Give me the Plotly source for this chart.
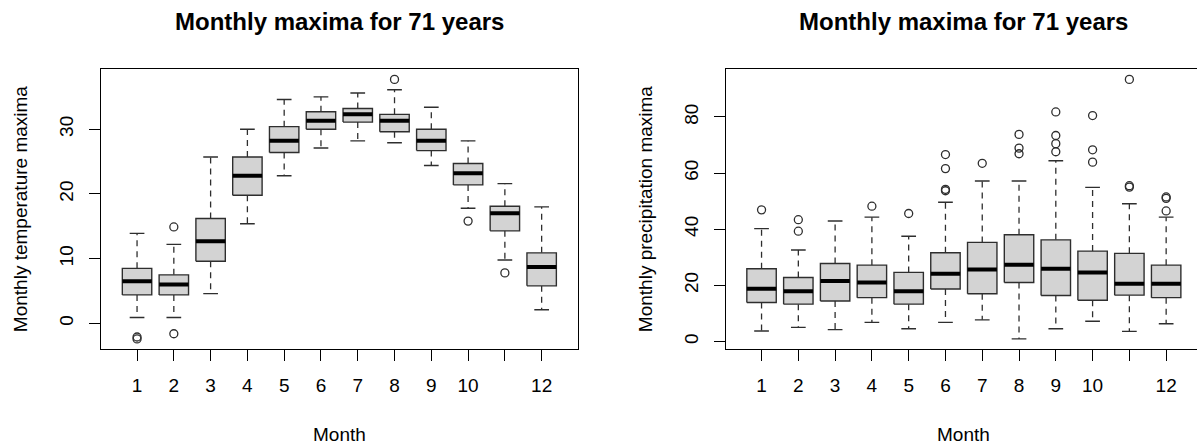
import plotly.graph_objects as go

# ---- data: monthly maxima over 71 years, five-number summaries per month ----
months = list(range(1, 13))
month_labels = ["1", "2", "3", "4", "5", "6", "7", "8", "9", "10", "", "12"]

# temperature maxima
temp_lower = [0.9, 0.9, 4.6, 15.4, 22.8, 27.1, 28.2, 27.9, 24.4, 17.8, 9.8, 2.1]
temp_q1 = [4.4, 4.4, 9.6, 19.8, 26.4, 30.0, 31.1, 29.6, 26.7, 21.4, 14.3, 5.8]
temp_median = [6.5, 6.0, 12.7, 22.8, 28.2, 31.3, 32.3, 31.3, 28.2, 23.2, 17.0, 8.7]
temp_q3 = [8.5, 7.5, 16.2, 25.7, 30.4, 32.7, 33.2, 32.3, 30.0, 24.7, 18.1, 10.9]
temp_upper = [13.9, 12.2, 25.7, 30.0, 34.6, 35.0, 35.6, 36.1, 33.4, 28.2, 21.6, 18.0]
temp_out_month = [1, 1, 2, 2, 8, 10, 11]
temp_out_value = [-2.1, -2.4, 14.9, -1.6, 37.7, 15.8, 7.8]

# precipitation maxima
prec_lower = [3.7, 5.0, 4.2, 6.8, 4.5, 6.8, 7.7, 0.9, 4.5, 7.2, 3.6, 6.3]
prec_q1 = [13.9, 13.3, 14.4, 15.6, 13.3, 18.7, 17.0, 21.0, 16.4, 14.7, 16.5, 15.6]
prec_median = [18.8, 17.9, 21.5, 21.0, 17.9, 24.1, 25.6, 27.3, 25.9, 24.6, 20.6, 20.6]
prec_q3 = [25.9, 22.8, 27.8, 27.2, 24.6, 31.6, 35.3, 38.0, 36.2, 32.2, 31.4, 27.2]
prec_upper = [40.2, 32.6, 42.9, 44.3, 37.5, 49.6, 57.2, 57.2, 64.4, 54.9, 49.1, 44.3]
prec_out_month = [1, 2, 2, 4, 5, 6, 6, 6, 6, 7, 8, 8, 8,
                  9, 9, 9, 9, 10, 10, 10, 11, 11, 11, 12, 12, 12]
prec_out_value = [46.9, 43.4, 39.3, 48.2, 45.6, 66.6, 61.6, 54.2, 53.7, 63.5,
                  73.8, 68.9, 66.9, 81.8, 73.4, 70.5, 67.6, 80.5, 68.3, 63.9,
                  93.4, 55.5, 55.0, 51.5, 51.0, 46.5]

# ---- page geometry (pixels) ----
W, H = 1197, 445
PLOT_TOP, PLOT_BOTTOM = 69, 349.3
LEFT_X0, LEFT_X1 = 101, 577.7
RIGHT_X0 = 725.5
PANEL_W = LEFT_X1 - LEFT_X0
X_RANGE = (0.02, 12.98)
UNITS_PER_PX = (X_RANGE[1] - X_RANGE[0]) / PANEL_W
RIGHT_X1 = W  # right panel runs past the page edge
RIGHT_RANGE_END = X_RANGE[0] + (RIGHT_X1 - RIGHT_X0) * UNITS_PER_PX

FONT = "Liberation Sans, Arial, sans-serif"
BOX_FILL = "#d3d3d3"
EDGE = "#2e2e2e"
BOX_WEX = 0.8
STAPLE_WEX = 0.4


def px_x(x):
    return x / W


def px_y(y):
    return 1 - y / H


def padded(values):
    lo, hi = min(values), max(values)
    pad = 0.04 * (hi - lo)
    return [lo - pad, hi + pad]


def box_traces(lower, q1, med, q3, upper, out_m, out_v, xa, ya):
    wx, wy, bx, by, mx, my, sx, sy = [], [], [], [], [], [], [], []
    for m, lo, a, md, b, hi in zip(months, lower, q1, med, q3, upper):
        h = BOX_WEX / 2
        s = STAPLE_WEX / 2
        wx += [m, m, None, m, m, None]
        wy += [b, hi, None, a, lo, None]
        bx += [m - h, m + h, m + h, m - h, m - h, None]
        by += [a, a, b, b, a, None]
        mx += [m - h, m + h, None]
        my += [md, md, None]
        sx += [m - s, m + s, None, m - s, m + s, None]
        sy += [hi, hi, None, lo, lo, None]
    common = dict(xaxis=xa, yaxis=ya, showlegend=False, hoverinfo="skip")
    return [
        go.Scatter(x=wx, y=wy, mode="lines",
                   line=dict(color=EDGE, width=1.3, dash="6px,5px"), **common),
        go.Scatter(x=sx, y=sy, mode="lines",
                   line=dict(color=EDGE, width=1.4), **common),
        go.Scatter(x=bx, y=by, mode="lines", fill="toself", fillcolor=BOX_FILL,
                   line=dict(color=EDGE, width=1.4), **common),
        go.Scatter(x=mx, y=my, mode="lines",
                   line=dict(color="black", width=4), **common),
        go.Scatter(x=out_m, y=out_v, mode="markers",
                   marker=dict(symbol="circle-open", size=8,
                               color=EDGE, line=dict(width=1.3)), **common),
    ]


fig = go.Figure()
for t in box_traces(temp_lower, temp_q1, temp_median, temp_q3, temp_upper,
                    temp_out_month, temp_out_value, "x", "y"):
    fig.add_trace(t)
for t in box_traces(prec_lower, prec_q1, prec_median, prec_q3, prec_upper,
                    prec_out_month, prec_out_value, "x2", "y2"):
    fig.add_trace(t)

temp_range = padded(temp_lower + temp_upper + temp_out_value)
prec_range = padded(prec_lower + prec_upper + prec_out_value)

axis_font = dict(family=FONT, size=19, color="black")
xaxis_common = dict(
    tickvals=months, ticktext=month_labels, ticks="outside", ticklen=11,
    tickcolor="black", tickwidth=1, showline=True, linecolor="black",
    linewidth=1, showgrid=False, zeroline=False, tickfont=axis_font,
    ticklabelstandoff=8, fixedrange=True,
)
yaxis_common = dict(
    ticks="outside", ticklen=11, tickcolor="black", tickwidth=1,
    showline=True, linecolor="black", linewidth=1, showgrid=False,
    zeroline=False, tickfont=axis_font, tickangle=-90, ticklabelstandoff=8,
    fixedrange=True,
)

ydom = [px_y(PLOT_BOTTOM), px_y(PLOT_TOP)]
fig.update_layout(
    width=W, height=H,
    margin=dict(l=0, r=0, t=0, b=0),
    paper_bgcolor="white", plot_bgcolor="white",
    xaxis=dict(domain=[px_x(LEFT_X0), px_x(LEFT_X1)], range=list(X_RANGE),
               anchor="y", mirror=True, **xaxis_common),
    yaxis=dict(domain=ydom, range=temp_range, anchor="x", mirror=True,
               tickvals=[0, 10, 20, 30], **yaxis_common),
    xaxis2=dict(domain=[px_x(RIGHT_X0), 1], range=[X_RANGE[0], RIGHT_RANGE_END],
                anchor="y2", mirror=True, **xaxis_common),
    yaxis2=dict(domain=ydom, range=prec_range, anchor="x2", mirror=False,
                tickvals=[0, 20, 40, 60, 80], **yaxis_common),
)

# titles and axis titles
left_cx = (LEFT_X0 + LEFT_X1) / 2
right_cx = RIGHT_X0 + PANEL_W / 2
mid_y = (PLOT_TOP + PLOT_BOTTOM) / 2
title_font = dict(family=FONT, size=24, color="black")
notes = [
    ("Monthly maxima for 71 years", left_cx, 22, 0, title_font, True),
    ("Monthly maxima for 71 years", right_cx, 22, 0, title_font, True),
    ("Month", left_cx, 434, 0, axis_font, False),
    ("Month", right_cx, 434, 0, axis_font, False),
    ("Monthly temperature maxima", 20, mid_y, -90, axis_font, False),
    ("Monthly precipitation maxima", 645, mid_y, -90, axis_font, False),
]
for text, x, y, ang, font, bold in notes:
    fig.add_annotation(
        text=f"<b>{text}</b>" if bold else text,
        x=px_x(x), y=px_y(y), xref="paper", yref="paper",
        xanchor="center", yanchor="middle", showarrow=False,
        textangle=ang, font=font,
    )

fig.write_html("out.html", config={"displayModeBar": False})
